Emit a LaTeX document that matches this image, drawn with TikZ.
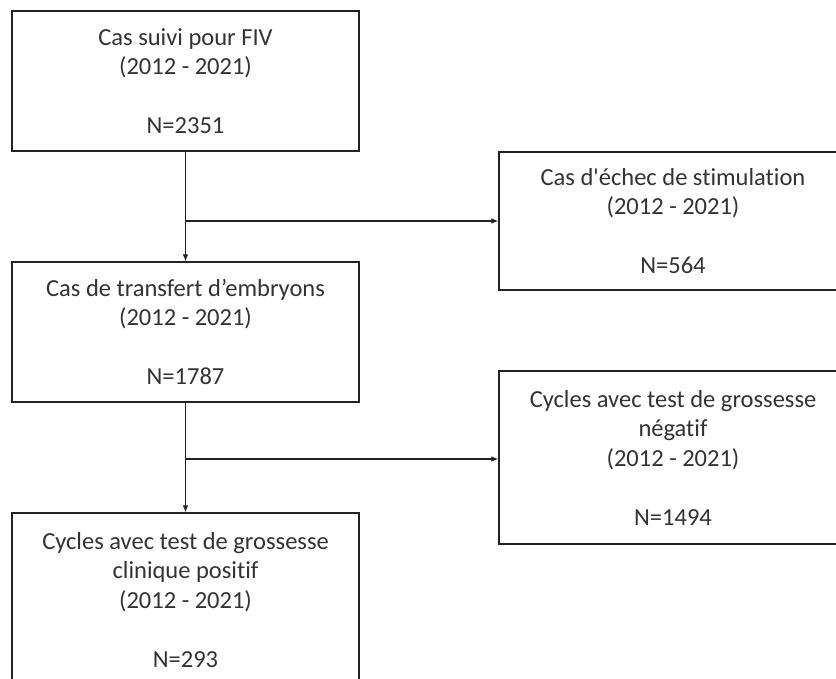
\documentclass[tikz,border=0pt]{standalone}
\usepackage{fontspec}
\setmainfont{Carlito}[Ligatures=NoCommon]
\usetikzlibrary{arrows.meta}
\definecolor{txt}{HTML}{333333}
\definecolor{ln}{HTML}{222222}
\tikzset{
  box/.style={draw=ln, line width=1.2pt, rectangle, inner sep=0pt, text=txt,
    align=center, font=\fontsize{24.5pt}{29.5pt}\selectfont},
  conn/.style={draw=ln, line width=1.1pt},
  arr/.style={conn, -{Latex[length=7pt,width=5.5pt]}}
}
\begin{document}
\begin{tikzpicture}[x=1pt,y=-1pt]
\useasboundingbox (0,0) rectangle (836,678);
\fill[white] (0,0) rectangle (836,678);
\clip (0,0) rectangle (836,678);
\node[box, minimum width=347pt, minimum height=140pt] (b1) at (185.5,81)
  {Cas suivi pour FIV\\(2012 - 2021)\\[29.5pt]N=2351};
\node[box, minimum width=348pt, minimum height=138pt] (b2) at (673,221)
  {Cas d\textquotesingle échec de stimulation\\(2012 - 2021)\\[29.5pt]N=564};
\node[box, minimum width=347pt, minimum height=140pt] (b3) at (185.5,332)
  {Cas de transfert d’embryons\\(2012 - 2021)\\[29.5pt]N=1787};
\node[box, minimum width=348pt, minimum height=173pt] (b4) at (673,457.5)
  {Cycles avec test de grossesse\\négatif\\(2012 - 2021)\\[29.5pt]N=1494};
\node[box, minimum width=347pt, minimum height=174pt] (b5) at (185.5,600)
  {Cycles avec test de grossesse\\clinique positif\\(2012 - 2021)\\[29.5pt]N=293};
\coordinate (j1) at (185.5,221);
\coordinate (j2) at (185.5,459);
\draw[arr] (b1.south) -- (b3.north);
\draw[arr] (j1) -- (b2.west);
\draw[arr] (b3.south) -- (b5.north);
\draw[arr] (j2) -- (j2 -| b4.west);
\end{tikzpicture}
\end{document}
